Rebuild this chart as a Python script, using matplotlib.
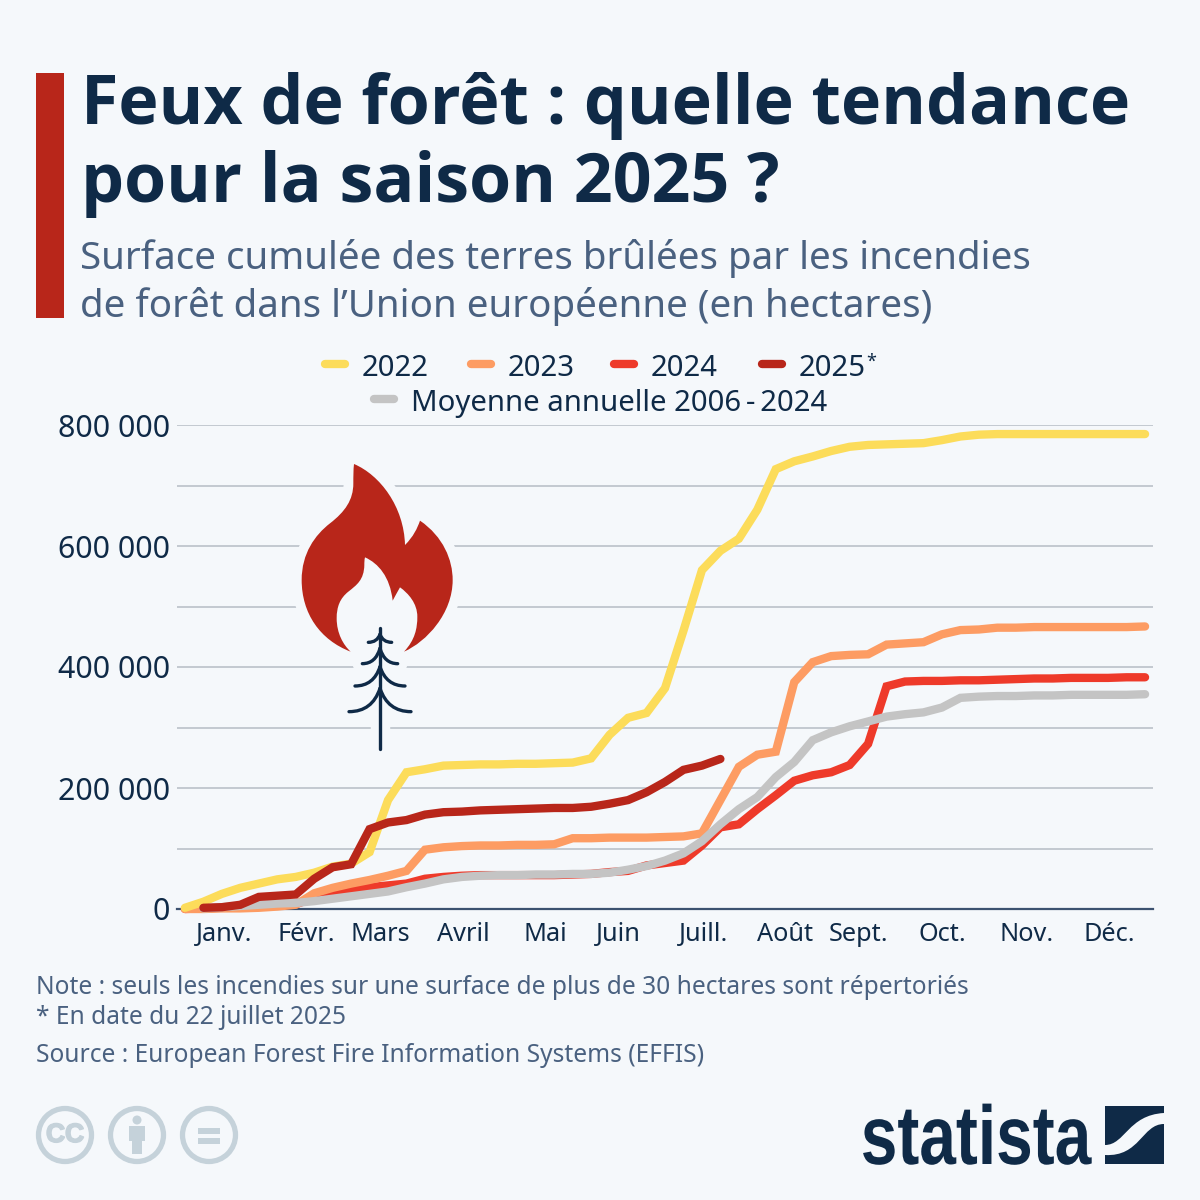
import matplotlib
matplotlib.use("Agg")
import matplotlib.pyplot as plt
import matplotlib.patheffects as pe
from matplotlib.path import Path
from matplotlib.patches import PathPatch, Circle, Rectangle
from matplotlib.transforms import Affine2D

plt.rcParams['font.family'] = ['Noto Sans', 'DejaVu Sans']

# cumulated burnt area per week, in thousand hectares
val_2022 = [2, 12, 25, 35, 42, 49, 53, 60, 70, 75, 94, 180, 226, 231, 237, 238, 239, 239, 240, 240, 241, 242, 249,
            288, 316, 324, 365, 460, 560, 592, 612, 660, 727, 740, 748, 757, 764, 767, 768, 769, 770, 775, 781, 784,
            785, 785, 785, 785, 785, 785, 785, 785, 785]
val_2023 = [0, 0, 1, 1, 2, 4, 7, 26, 35, 42, 48, 55, 63, 98, 102, 104, 105, 105, 106, 106, 107, 117, 117, 118, 118,
            118, 119, 120, 125, 180, 235, 255, 260, 375, 408, 418, 420, 421, 437, 439, 441, 454, 461, 462, 465, 465,
            466, 466, 466, 466, 466, 466, 467]
val_2024 = [0, 1, 2, 3, 5, 6, 8, 18, 27, 32, 36, 39, 42, 50, 53, 55, 56, 56, 56, 56, 56, 57, 58, 61, 63, 72, 76, 80,
            105, 135, 140, 165, 188, 212, 221, 226, 238, 273, 368, 376, 377, 377, 378, 378, 379, 380, 381, 381, 382,
            382, 382, 383, 383]
val_2025 = [2, 3, 7, 20, 22, 24, 50, 69, 74, 132, 143, 147, 156, 160, 161, 163, 164, 165, 166, 167, 167, 169, 174,
            180, 193, 210, 230, 237, 248]
val_avg = [1, 3, 5, 7, 9, 10, 13, 17, 21, 25, 29, 36, 42, 49, 53, 55, 56, 56, 57, 57, 58, 58, 60, 65, 71, 80, 92,
           112, 140, 165, 185, 218, 243, 279, 292, 302, 310, 318, 322, 325, 333, 349, 351, 352, 352, 353, 353, 354,
           354, 354, 354, 355]
weeks = list(range(53))
weeks_2025 = list(range(1, 30))
weeks_avg = list(range(1, 53))

month_pos = [2.11, 6.6, 10.6, 15.1, 19.5, 23.5, 28.1, 32.5, 36.5, 41, 45.6, 50.05]
month_labels = ['Janv.', 'Févr.', 'Mars', 'Avril', 'Mai', 'Juin', 'Juill.', 'Août', 'Sept.', 'Oct.', 'Nov.', 'Déc.']
y_ticks = [0, 100, 200, 300, 400, 500, 600, 700, 800]
y_labels = ['0', '', '200 000', '', '400 000', '', '600 000', '', '800 000']

BG = '#f5f8fb'
NAVY = '#0f2a47'
SLATE = '#4a6180'
YELLOW = '#fcdc5a'
ORANGE = '#fd9c63'
RED = '#ee3a2a'
DARK = '#b8261a'
GREY = '#c4c4c4'
ICON = '#c5d2da'
LW = 6


class SqueezeX(pe.AbstractPathEffect):
    # the logo lettering is narrower than any installed bold font
    def __init__(self, factor, center):
        super().__init__()
        self.factor = factor
        self.center = center

    def draw_path(self, renderer, gc, tpath, affine, rgbFace=None):
        squeeze = Affine2D().translate(-self.center, 0).scale(self.factor, 1).translate(self.center, 0)
        renderer.draw_path(gc, tpath, affine + squeeze, rgbFace)


def zoom_pts(pts):
    return [(x / 3 + 280, y / 3 + 450) for x, y in pts]


fig = plt.figure(figsize=(12, 12), dpi=100, facecolor=BG)
ax = fig.add_axes([177 / 1200, (1200 - 909) / 1200, 976 / 1200, 484 / 1200])
ax.set_facecolor('none')
ax.set_xlim(-0.43, 52.43)
ax.set_ylim(0, 800)

style = dict(lw=LW, clip_on=False, solid_joinstyle='miter', solid_capstyle='round')
ax.plot(weeks, val_2024, color=RED, zorder=3, **style)
ax.plot(weeks, val_2023, color=ORANGE, zorder=4, **style)
ax.plot(weeks, val_2022, color=YELLOW, zorder=5, **style)
ax.plot(weeks_avg, val_avg, color=GREY, zorder=6, **style)
ax.plot(weeks_2025, val_2025, color=DARK, zorder=7, **style)

ax.set_yticks(y_ticks)
ax.set_yticklabels(y_labels, fontsize=21.8, color=NAVY)
ax.set_xticks(month_pos)
ax.set_xticklabels(month_labels, fontsize=18.2, color=NAVY)
ax.tick_params(length=0)
ax.tick_params(axis='y', pad=5)
ax.tick_params(axis='x', pad=9.5)
ax.grid(axis='y', color='#b6bdc5', lw=1.1, zorder=1)
ax.set_axisbelow(True)
for side in ['top', 'right', 'left']:
    ax.spines[side].set_visible(False)
ax.spines['bottom'].set_color('#3c5270')
ax.spines['bottom'].set_linewidth(1.6)

# everything else is placed in pixels on a transparent layer
top = fig.add_axes([0, 0, 1, 1], zorder=10)
top.set_xlim(0, 1200)
top.set_ylim(1200, 0)
top.axis('off')

top.add_patch(Rectangle((36, 73), 28, 245, color=DARK, lw=0))
top.text(81, 124, 'Feux de forêt : quelle tendance', fontsize=49.05, fontweight='bold', family='Open Sans', color=NAVY, va='baseline')
top.text(81, 202, 'pour la saison 2025 ?', fontsize=49.05, fontweight='bold', family='Open Sans', color=NAVY, va='baseline')
top.text(80, 258, 'Surface cumulée des terres brûlées par les incendies', fontsize=27.76, color=SLATE, va='center')
top.text(80, 306, 'de forêt dans l’Union européenne (en hectares)', fontsize=27.76, color=SLATE, va='center')

# legend
for x0, y0, col, lab in [(322, 364, YELLOW, '2022'), (468, 364, ORANGE, '2023'), (611, 364, RED, '2024'),
                         (759, 364, DARK, '2025'), (371, 399, GREY, 'Moyenne annuelle 2006\u2009-\u20092024')]:
    top.plot([x0 + 3, x0 + 23], [y0, y0], color=col, lw=LW, solid_capstyle='round')
    top.text(x0 + 40, y0 + 5, lab, fontsize=21.1, color=NAVY, va='center')
top.text(866, 362, '*', fontsize=13, color=NAVY, va='center')

# flame
flame_verts = zoom_pts([
    (222, 42), (300, 75), (372, 170), (375, 285), (400, 260), (412, 235), (420, 212),
    (490, 260), (518, 330), (518, 390), (518, 490), (440, 575), (372, 605),
    (405, 570), (412, 535), (412, 500), (412, 460), (385, 430), (360, 412),
    (352, 425), (345, 440), (338, 452), (330, 380), (295, 340), (255, 322),
    (253, 330), (253, 338), (253, 345), (252, 390), (230, 405), (205, 425),
    (180, 445), (170, 470), (170, 505), (170, 550), (190, 585), (212, 605),
    (120, 570), (65, 490), (65, 390), (65, 310), (105, 255), (150, 220),
    (195, 185), (220, 150), (220, 100), (220, 80), (220, 60), (222, 42)])
flame_codes = [Path.MOVETO] + [Path.CURVE4] * (len(flame_verts) - 1)
flame = Path(flame_verts, flame_codes)
top.add_patch(PathPatch(flame, fc=BG, ec=BG, lw=14, zorder=2))
top.add_patch(PathPatch(Path(zoom_pts([(170, 330), (412, 330), (412, 605), (170, 605), (170, 330)])), fc=BG, ec=BG, lw=0, zorder=2))
top.add_patch(PathPatch(flame, fc=DARK, ec='none', zorder=3))

# tree
tree_paths = [Path(zoom_pts([(300, 535), (300, 898)]))]
for y_start, half, y_tip in [(553, 35, 577), (595, 53, 641), (650, 75, 708), (715, 93, 785)]:
    for sign in [-1, 1]:
        tree_paths.append(Path(zoom_pts([(300, y_start), (300 + sign * half * 0.25, y_tip), (300 + sign * half, y_tip)]),
                               [Path.MOVETO, Path.CURVE3, Path.CURVE3]))
for tree_path in tree_paths:
    top.add_patch(PathPatch(tree_path, fc='none', ec=BG, lw=14, capstyle='round', zorder=2))
for tree_path in tree_paths:
    top.add_patch(PathPatch(tree_path, fc='none', ec=NAVY, lw=2.4, capstyle='round', zorder=4))

# notes
note_size = 17.65
top.text(36, 987, 'Note : seuls les incendies sur une surface de plus de 30 hectares sont répertoriés', fontsize=note_size, color=SLATE, va='center')
top.text(36, 1017, '* En date du 22 juillet 2025', fontsize=note_size, color=SLATE, va='center')
top.text(36, 1055, 'Source : European Forest Fire Information Systems (EFFIS)', fontsize=note_size, color=SLATE, va='center')

# licence icons
for cx in [65, 137, 209]:
    top.add_patch(Circle((cx, 1135), 26.5, fc='none', ec=ICON, lw=3.8))
cc = top.text(65, 1135, 'CC', fontsize=19, fontweight='bold', family='Liberation Sans', color=ICON, ha='center', va='center')
cc.set_path_effects([pe.withStroke(linewidth=1.2, foreground=ICON)])
top.add_patch(Circle((137, 1120), 4.5, color=ICON, lw=0))
top.add_patch(Rectangle((129, 1126), 16, 15, color=ICON, lw=0))
top.add_patch(Rectangle((132, 1126), 10, 28, color=ICON, lw=0))
top.add_patch(Rectangle((198, 1128), 22, 5.5, color=ICON, lw=0))
top.add_patch(Rectangle((198, 1138), 22, 5.5, color=ICON, lw=0))

# statista logo
logo = top.text(976, 1164, 'statista', fontsize=60, fontweight='bold', family='Liberation Sans', color=NAVY, ha='center', va='baseline')
logo.set_path_effects([SqueezeX(0.79, 976)])
top.add_patch(Rectangle((1105, 1106), 59, 58, color=NAVY, lw=0))
band = Path([(1105, 1145), (1125, 1145), (1128, 1115), (1164, 1113), (1164, 1124), (1142, 1124), (1140, 1157), (1105, 1155), (1105, 1145)],
            [Path.MOVETO, Path.CURVE4, Path.CURVE4, Path.CURVE4, Path.LINETO, Path.CURVE4, Path.CURVE4, Path.CURVE4, Path.CLOSEPOLY])
top.add_patch(PathPatch(band, fc=BG, ec='none', zorder=3))

fig.savefig('out.png', dpi=100, facecolor=BG)
